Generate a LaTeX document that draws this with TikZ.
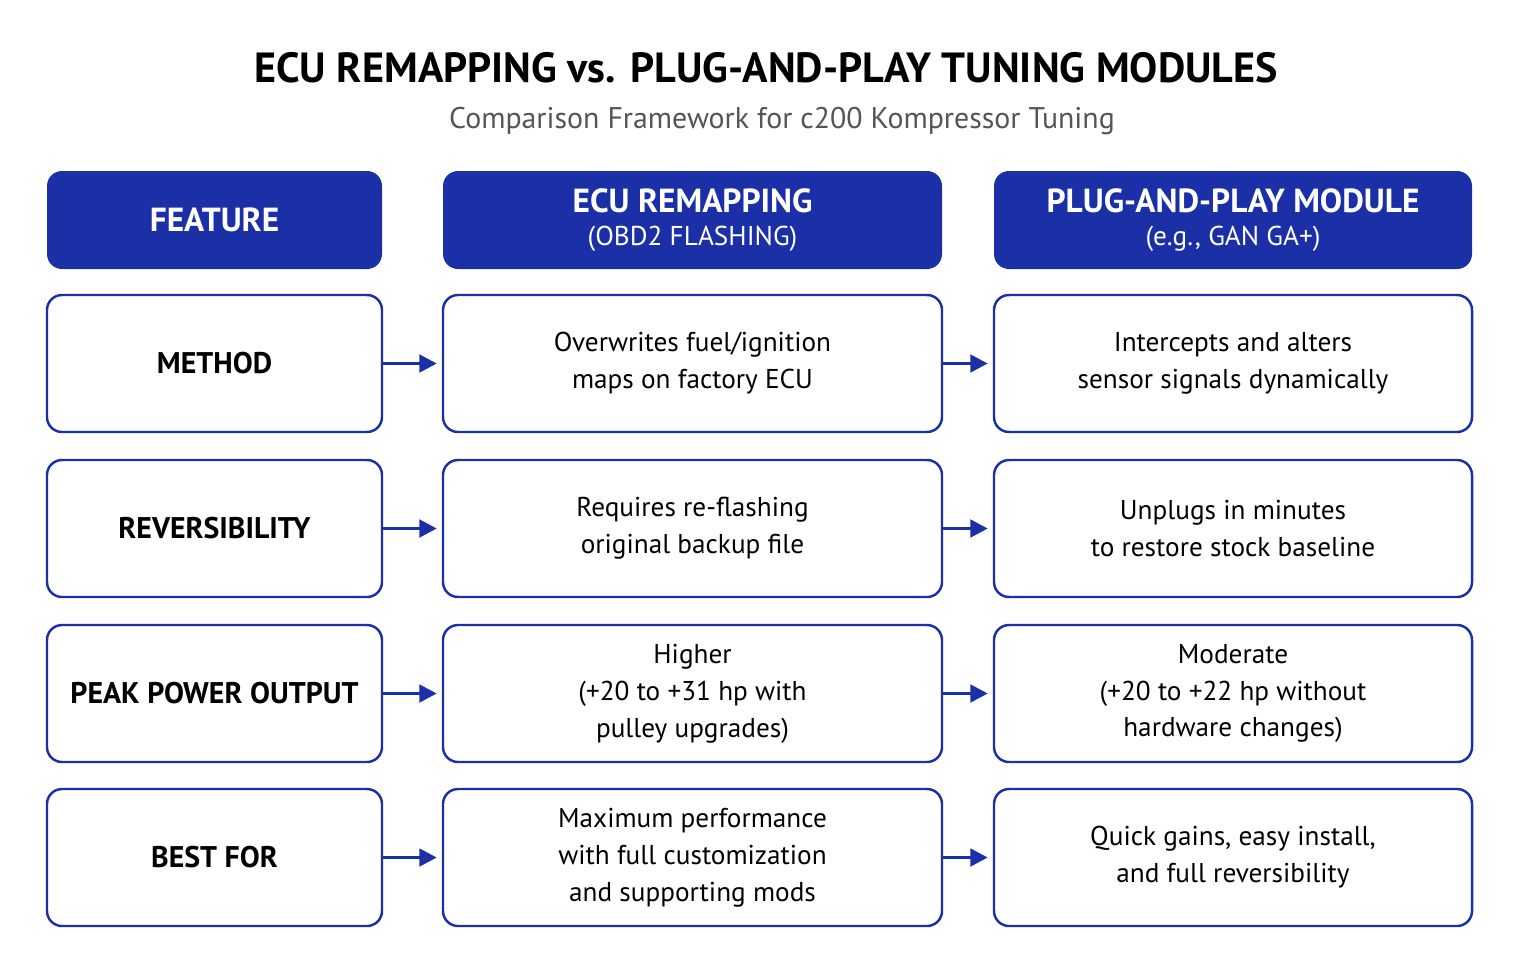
\documentclass[tikz,border=0pt]{standalone}
\usepackage{fontspec}
\setmainfont{PT Sans}
\usetikzlibrary{arrows.meta}
\definecolor{ecublue}{HTML}{1B2FA6}
\definecolor{subgray}{HTML}{555555}
\begin{document}
\begin{tikzpicture}[x=0.02cm,y=-0.02cm]
\tikzset{
 headbox/.style={rectangle,rounded corners=3mm,fill=ecublue,text=white,font=\bfseries\fontsize{19}{21}\selectfont,align=center,inner sep=0pt},
 cellbox/.style={rectangle,rounded corners=3mm,draw=ecublue,line width=1.4pt,fill=white,font=\fontsize{15.5}{21}\selectfont,align=center,inner sep=0pt},
 featbox/.style={cellbox,font=\bfseries\fontsize{17}{21}\selectfont},
 rowarrow/.style={-{Triangle[length=3.5mm,width=3.5mm]},ecublue,line width=2pt}
}
\useasboundingbox (0,0) rectangle (1520,974);
%Title
\node at (766,68) (Title) {\bfseries\fontsize{24}{28}\selectfont ECU REMAPPING vs. PLUG-AND-PLAY TUNING MODULES};
\node at (782,121) [text=subgray] (Subtitle) {\fontsize{17}{20}\selectfont Comparison Framework for c200 Kompressor Tuning};
%Headers
\node at (214.5,220) [headbox,minimum width=335*0.02cm,minimum height=98*0.02cm] (HeadFeat) {FEATURE};
\node at (692.5,220) [headbox,minimum width=499*0.02cm,minimum height=98*0.02cm] (HeadEcu) {ECU REMAPPING\\[-2pt]{\mdseries\fontsize{15.5}{18}\selectfont (OBD2 FLASHING)}};
\node at (1233,220) [headbox,minimum width=478*0.02cm,minimum height=98*0.02cm] (HeadPlug) {PLUG-AND-PLAY MODULE\\[-2pt]{\mdseries\fontsize{15.5}{18}\selectfont (e.g., GAN GA+)}};
%Rows
\foreach \r/\y/\f/\a/\b in {
 1/363.5/METHOD/{Overwrites fuel/ignition\\maps on factory ECU}/{Intercepts and alters\\sensor signals dynamically},
 2/528.5/REVERSIBILITY/{Requires re-flashing\\original backup file}/{Unplugs in minutes\\to restore stock baseline},
 3/693.5/PEAK POWER OUTPUT/{Higher\\(+20 to +31 hp with\\pulley upgrades)}/{Moderate\\(+20 to +22 hp without\\hardware changes)},
 4/857.5/BEST FOR/{Maximum performance\\with full customization\\and supporting mods}/{Quick gains, easy install,\\and full reversibility}}{
 \node at (214.5,\y) [featbox,minimum width=335*0.02cm,minimum height=137*0.02cm] (Feat\r) {\f};
 \node at (692.5,\y) [cellbox,minimum width=499*0.02cm,minimum height=137*0.02cm] (Ecu\r) {\a};
 \node at (1233,\y) [cellbox,minimum width=478*0.02cm,minimum height=137*0.02cm] (Plug\r) {\b};
 %connections
 \draw [rowarrow] (Feat\r.east) -- ([xshift=-1mm]Ecu\r.west);
 \draw [rowarrow] (Ecu\r.east) -- ([xshift=-1mm]Plug\r.west);
}
\end{tikzpicture}
\end{document}
